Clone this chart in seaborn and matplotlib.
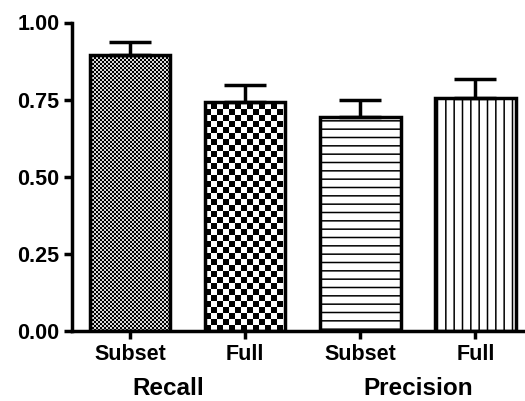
import numpy as np
import pandas as pd
import matplotlib
matplotlib.use("Agg")
import matplotlib.pyplot as plt
import matplotlib.transforms as mtransforms
import seaborn as sns

# values
bar_ids = ["Recall Subset", "Recall Full", "Precision Subset", "Precision Full"]
tick_labels = ["Subset", "Full", "Subset", "Full"]
means = [0.896, 0.741, 0.693, 0.756]
errors = [0.040, 0.056, 0.057, 0.062]
groups = ["Recall", "Precision"]
group_pos = [0.33, 2.5]

sns.set_style("ticks", {"axes.edgecolor": "black", "xtick.color": "black",
                        "ytick.color": "black", "text.color": "black",
                        "axes.labelcolor": "black"})
plt.rcParams["font.family"] = ["Liberation Sans", "DejaVu Sans"]
plt.rcParams["font.weight"] = "bold"
plt.rcParams["hatch.linewidth"] = 1.1

df = pd.DataFrame({"bar": bar_ids, "value": means})

fig = plt.figure(figsize=(5.25, 4.01), dpi=100)
ax = fig.add_axes([72 / 525, 1 - 331 / 401, 1 - 72 / 525, (331 - 22.5) / 401])

sns.barplot(data=df, x="bar", y="value", color="white", errorbar=None,
            width=0.70, edgecolor="black", linewidth=2.5, ax=ax)

ax.set_xlim(-0.504, 3.43)
ax.set_ylim(0, 1.0)
ax.set_yticks([0, 0.25, 0.5, 0.75, 1.0])
ax.set_yticklabels(["0.00", "0.25", "0.50", "0.75", "1.00"])
ax.set_xticks(range(len(tick_labels)))
ax.set_xticklabels(tick_labels)
ax.set_xlabel("")
ax.set_ylabel("")
sns.despine(ax=ax)
for sp in ["left", "bottom"]:
    ax.spines[sp].set_linewidth(2.5)
    ax.spines[sp].set_color("black")
ax.tick_params(axis="both", length=6, width=2.5, labelsize=15.5, pad=3,
               colors="black")

patches = list(ax.patches)

# error bars, upper side only
xs = [p.get_x() + p.get_width() / 2 for p in patches]
ax.errorbar(xs, means, yerr=[np.zeros(len(errors)), errors], fmt="none",
            ecolor="black", elinewidth=2.5, capsize=15, capthick=2.5, zorder=1)

# checkerboard fills for the recall bars, hatching for precision
fig.canvas.draw()
cell_px = [2, 6]
for p, c in zip(patches[:2], cell_px):
    x0, y0 = p.get_x(), p.get_y()
    x1, y1 = x0 + p.get_width(), y0 + p.get_height()
    (px0, py0), (px1, py1) = ax.transData.transform([(x0, y0), (x1, y1)])
    nx = max(1, int(round((px1 - px0) / c)))
    ny = max(1, int(round((py1 - py0) / c)))
    ii, jj = np.indices((ny, nx))
    board = ((ii + jj) % 2).astype(float)
    if c == 2:
        board = board * 0.85
    im = ax.imshow(board, cmap="gray", vmin=0, vmax=1, interpolation="nearest",
                   extent=[x0, x0 + nx * c * (x1 - x0) / (px1 - px0), y0,
                           y0 + ny * c * (y1 - y0) / (py1 - py0)],
                   origin="lower", aspect="auto", zorder=p.get_zorder() - 0.1)
    im.set_clip_path(p)
    p.set_facecolor("none")

patches[2].set_hatch("--")
patches[3].set_hatch("||")
ax.set_xlim(-0.504, 3.43)
ax.set_ylim(0, 1.0)

trans = mtransforms.blended_transform_factory(ax.transData, fig.transFigure)
for g, gx in zip(groups, group_pos):
    ax.text(gx, 6 / 401, g, transform=trans, ha="center", va="baseline",
            fontsize=17.5, fontweight="bold", color="black")

fig.savefig("out.png", dpi=100)
